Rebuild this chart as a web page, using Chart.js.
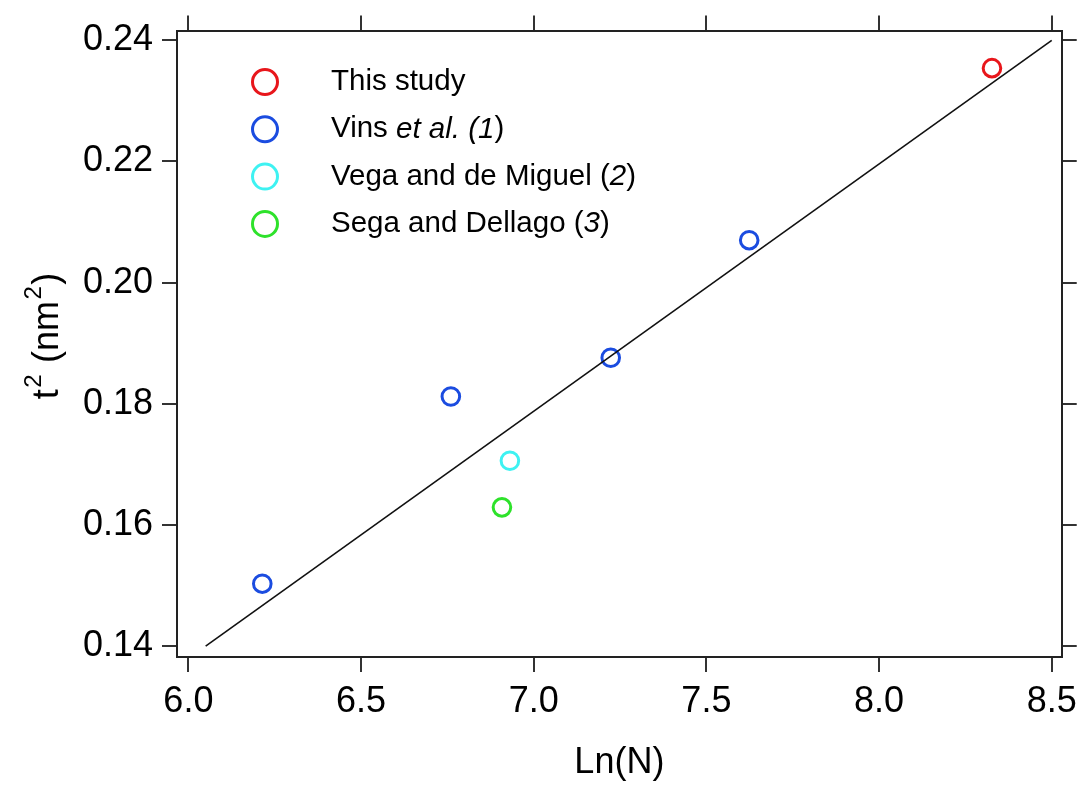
<!DOCTYPE html>
<html>
<head>
<meta charset="utf-8">
<script src="https://cdn.jsdelivr.net/npm/chart.js@4.4.0/dist/chart.umd.min.js"></script>
<style>
html,body{margin:0;padding:0;background:#fff;}
#wrap{width:1085px;height:785px;}
</style>
</head>
<body>
<div id="wrap"><canvas id="c" width="1085" height="785"></canvas></div>
<script>
// ---- data ----
const xTicks = [6.0, 6.5, 7.0, 7.5, 8.0, 8.5];
const yTicks = [0.14, 0.16, 0.18, 0.20, 0.22, 0.24];
const thisStudy = [{x: 8.327, y: 0.2354}];
const vins = [{x: 6.214, y: 0.1503}, {x: 6.760, y: 0.1812}, {x: 7.223, y: 0.1876}, {x: 7.624, y: 0.2070}];
const vega = [{x: 6.931, y: 0.1706}];
const sega = [{x: 6.908, y: 0.1629}];
const fitLine = [{x: 6.05, y: 0.14}, {x: 8.5, y: 0.24}];
const seriesNames = ["This study", "Vins et al. (1)", "Vega and de Miguel (2)", "Sega and Dellago (3)"];
// text segments for the legend: [text, italic]
const legendParts = [
  [["This study", false]],
  [["Vins ", false], ["et al. (1", true], [")", false]],
  [["Vega and de Miguel (", false], ["2", true], [")", false]],
  [["Sega and Dellago (", false], ["3", true], [")", false]]
];
// y-axis title segments: [text, superscript]
const yTitleParts = [["t", false], ["2", true], [" (nm", false], ["2", true], [")", false]];
const seriesColors = ["#e8161b", "#1b4ce0", "#3ef2f2", "#2ee22b"];

const FONT = "'Liberation Sans', Arial, Helvetica, sans-serif";

const legendPlugin = {
  id: 'insideLegend',
  afterDatasetsDraw(chart) {
    const ctx = chart.ctx;
    ctx.save();
    const x0 = 265, tx = 331, y0 = 82, dy = 47.3;
    legendParts.forEach((parts, i) => {
      const y = y0 + i * dy;
      ctx.beginPath();
      ctx.arc(x0, y, 12.5, 0, Math.PI * 2);
      ctx.lineWidth = 3;
      ctx.strokeStyle = seriesColors[i];
      ctx.stroke();
      let x = tx;
      ctx.fillStyle = '#000';
      ctx.textBaseline = 'middle';
      ctx.textAlign = 'left';
      parts.forEach(([t, it]) => {
        ctx.font = (it ? 'italic ' : '') + '29.5px ' + FONT;
        ctx.fillText(t, x, y);
        x += ctx.measureText(t).width;
      });
    });
    ctx.restore();
  }
};

const yTitlePlugin = {
  id: 'yTitle',
  afterDraw(chart) {
    const ctx = chart.ctx;
    ctx.save();
    const fontOf = sup => (sup ? '24px ' : '36px ') + FONT;
    let w = 0;
    yTitlePlugin._w = 0;
    yTitleParts.forEach(([t, sup]) => { ctx.font = fontOf(sup); w += ctx.measureText(t).width + (sup ? 3 : 0); });
    ctx.translate(58, 336);
    ctx.rotate(-Math.PI / 2);
    ctx.fillStyle = '#000';
    ctx.textBaseline = 'alphabetic';
    ctx.textAlign = 'left';
    let x = -w / 2;
    yTitleParts.forEach(([t, sup]) => {
      ctx.font = fontOf(sup);
      if (sup) x += 1.5;
      ctx.fillText(t, x, sup ? -17 : 0);
      x += ctx.measureText(t).width + (sup ? 1.5 : 0);
    });
    ctx.restore();
  }
};

const mkScatter = (label, data, color) => ({
  type: 'scatter', label, data,
  borderColor: color, backgroundColor: 'rgba(0,0,0,0)',
  pointRadius: 8.8, pointBorderWidth: 3, pointHoverRadius: 8.8, showLine: false
});

const axisCommon = {
  type: 'linear',
  grid: {drawOnChartArea: false, drawTicks: true, tickLength: 15, color: '#333', lineWidth: 2},
  border: {display: true, color: '#222', width: 2}
};

new Chart(document.getElementById('c'), {
  data: {
    datasets: [
      {type: 'line', label: 'fit', data: fitLine, borderColor: '#111', borderWidth: 1.6, pointRadius: 0, fill: false, tension: 0},
      mkScatter(seriesNames[0], thisStudy, seriesColors[0]),
      mkScatter(seriesNames[1], vins, seriesColors[1]),
      mkScatter(seriesNames[2], vega, seriesColors[2]),
      mkScatter(seriesNames[3], sega, seriesColors[3])
    ]
  },
  options: {
    responsive: false,
    animation: false,
    layout: {padding: 0},
    plugins: {legend: {display: false}, tooltip: {enabled: false}},
    scales: {
      x: Object.assign({}, axisCommon, {
        position: 'bottom', min: 5.967, max: 8.529,
        afterBuildTicks: s => { s.ticks = xTicks.map(v => ({value: v})); },
        afterFit: s => { s.height = 128; },
        ticks: {color: '#000', padding: 8, font: {family: FONT, size: 36}, maxRotation: 0, callback: v => v.toFixed(1)},
        title: {display: true, text: 'Ln(N)', color: '#000', font: {family: FONT, size: 36, lineHeight: 1}, padding: {top: 0, bottom: 4}}
      }),
      x2: Object.assign({}, axisCommon, {
        position: 'top', min: 5.967, max: 8.529,
        afterBuildTicks: s => { s.ticks = xTicks.map(v => ({value: v})); },
        afterFit: s => { s.height = 28; },
        ticks: {display: false}
      }),
      y: Object.assign({}, axisCommon, {
        position: 'left', min: 0.1382, max: 0.2416,
        afterBuildTicks: s => { s.ticks = yTicks.map(v => ({value: v})); },
        afterFit: s => { s.width = 177; },
        ticks: {color: '#000', padding: 9, font: {family: FONT, size: 36}, callback: v => v.toFixed(2)}
      }),
      y2: Object.assign({}, axisCommon, {
        position: 'right', min: 0.1382, max: 0.2416,
        afterBuildTicks: s => { s.ticks = yTicks.map(v => ({value: v})); },
        afterFit: s => { s.width = 21; },
        ticks: {display: false}
      })
    }
  },
  plugins: [legendPlugin, yTitlePlugin]
});
</script>
</body>
</html>
